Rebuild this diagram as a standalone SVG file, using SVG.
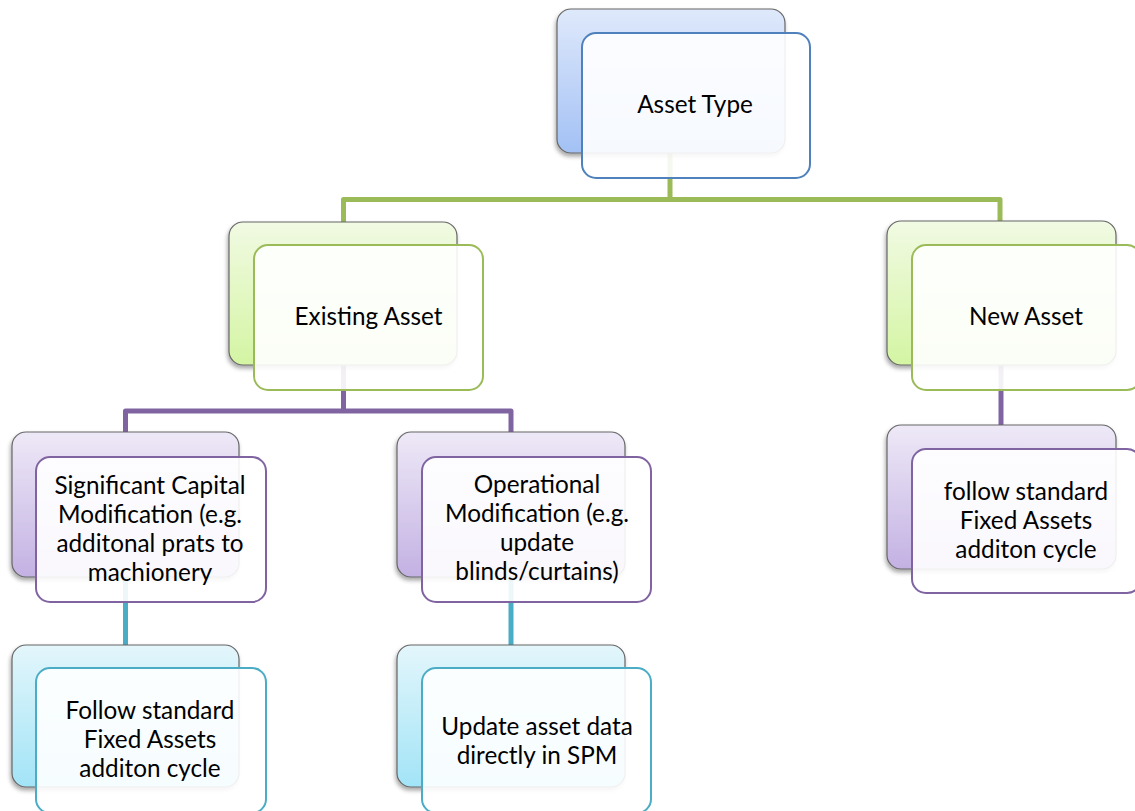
<svg xmlns="http://www.w3.org/2000/svg" width="1135" height="811" viewBox="0 0 1135 811">
<defs>
<linearGradient id="gBlue" x1="0" y1="0" x2="0" y2="1"><stop offset="0" stop-color="#dfe9fb"/><stop offset="1" stop-color="#a3c1f5"/></linearGradient>
<linearGradient id="gGreen" x1="0" y1="0" x2="0" y2="1"><stop offset="0" stop-color="#f1fae3"/><stop offset="1" stop-color="#d4f5a3"/></linearGradient>
<linearGradient id="gPurple" x1="0" y1="0" x2="0" y2="1"><stop offset="0" stop-color="#eee9f7"/><stop offset="1" stop-color="#c3b1e3"/></linearGradient>
<linearGradient id="gTeal" x1="0" y1="0" x2="0" y2="1"><stop offset="0" stop-color="#e3f6fb"/><stop offset="1" stop-color="#a2e4f7"/></linearGradient>
<filter id="sh" x="-10%" y="-10%" width="120%" height="130%"><feDropShadow dx="-1" dy="3" stdDeviation="2" flood-color="#000" flood-opacity="0.35"/></filter>
</defs>
<style>
.back{stroke:#666;stroke-width:1.2;filter:url(#sh)}
.front{fill:#fff;fill-opacity:0.9;stroke-width:2}
.t{font-family:Lato,"Liberation Sans",sans-serif;font-size:24.3px;fill:#000;text-anchor:middle}
.c{fill:none;stroke-width:5;stroke-linejoin:round}
</style>
<g id="connectors">
<path class="c" stroke="#9bbb59" d="M670,150 V199.5 H343.5 V222 M670,199.5 H1000 V222"/>
<path class="c" stroke="#8064a2" d="M343.5,365 V411 H125.5 V432 M343.5,411 H511 V432"/>
<path class="c" stroke="#8064a2" d="M1001,365 V425"/>
<path class="c" stroke="#4bacc6" d="M125.5,577 V645"/>
<path class="c" stroke="#4bacc6" d="M511,577 V645"/>
</g>
<g id="asset-type">
<rect class="back" x="557" y="9" width="228" height="144" rx="14" fill="url(#gBlue)"/>
<rect class="front" x="582" y="33" width="228" height="145" rx="14" stroke="#4f81bd"/>
<text class="t" x="695" y="113">Asset Type</text>
</g>
<g id="existing-asset">
<rect class="back" x="229" y="222" width="228" height="143" rx="14" fill="url(#gGreen)"/>
<rect class="front" x="254" y="245" width="229" height="145" rx="14" stroke="#9bbb59"/>
<text class="t" x="368.5" y="325">Existing Asset</text>
</g>
<g id="new-asset">
<rect class="back" x="887" y="221" width="229" height="144" rx="14" fill="url(#gGreen)"/>
<rect class="front" x="912" y="245" width="229" height="145" rx="14" stroke="#9bbb59"/>
<text class="t" x="1026" y="325">New Asset</text>
</g>
<g id="significant-capital">
<rect class="back" x="12" y="432" width="227" height="145" rx="14" fill="url(#gPurple)"/>
<rect class="front" x="36" y="457" width="230" height="145" rx="14" stroke="#8064a2"/>
<text class="t" x="150" y="494">Significant Capital</text>
<text class="t" x="150" y="523">Modification (e.g.</text>
<text class="t" x="150" y="552">additonal prats to</text>
<text class="t" x="150" y="581">machionery</text>
</g>
<g id="operational">
<rect class="back" x="397" y="432" width="228" height="145" rx="14" fill="url(#gPurple)"/>
<rect class="front" x="422" y="457" width="229" height="145" rx="14" stroke="#8064a2"/>
<text class="t" x="537" y="493">Operational</text>
<text class="t" x="537" y="522">Modification (e.g.</text>
<text class="t" x="537" y="551">update</text>
<text class="t" x="537" y="580">blinds/curtains)</text>
</g>
<g id="new-follow">
<rect class="back" x="887" y="425" width="229" height="144" rx="14" fill="url(#gPurple)"/>
<rect class="front" x="912" y="449" width="229" height="144" rx="14" stroke="#8064a2"/>
<text class="t" x="1026" y="500">follow standard</text>
<text class="t" x="1026" y="529">Fixed Assets</text>
<text class="t" x="1026" y="558">additon cycle</text>
</g>
<g id="follow-standard">
<rect class="back" x="12" y="645" width="227" height="142" rx="14" fill="url(#gTeal)"/>
<rect class="front" x="36" y="668" width="230" height="145" rx="14" stroke="#4bacc6"/>
<text class="t" x="150" y="719">Follow standard</text>
<text class="t" x="150" y="748">Fixed Assets</text>
<text class="t" x="150" y="777">additon cycle</text>
</g>
<g id="update-asset">
<rect class="back" x="397" y="645" width="228" height="142" rx="14" fill="url(#gTeal)"/>
<rect class="front" x="422" y="668" width="229" height="145" rx="14" stroke="#4bacc6"/>
<text class="t" x="537" y="735">Update asset data</text>
<text class="t" x="537" y="764">directly in SPM</text>
</g>
</svg>
